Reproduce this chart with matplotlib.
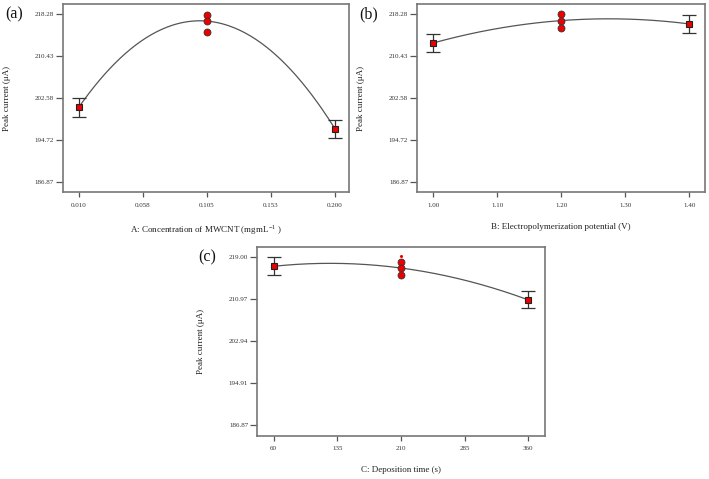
import numpy as np
import matplotlib
matplotlib.use("Agg")
import matplotlib.pyplot as plt

plt.rcParams['font.family'] = ['Liberation Serif', 'DejaVu Serif']

# ---------------- data ----------------
# (a) Concentration of MWCNT
a_levels = [0.010, 0.105, 0.200]
a_pred = [200.9, 217.0, 196.8]
a_err_lo = [199.1, None, 195.1]
a_err_hi = [202.6, None, 198.5]
a_rep_x = [0.105, 0.105, 0.105]
a_rep_y = [218.15, 216.97, 215.0]
a_xticks = [0.010, 0.0575, 0.105, 0.1525, 0.200]
a_xlabels = ['0.010', '0.058', '0.105', '0.153', '0.200']
ab_yticks = [186.87, 194.72, 202.58, 210.43, 218.28]

# (b) Electropolymerization potential
b_levels = [1.00, 1.20, 1.40]
b_pred = [212.9, 217.1, 216.47]
b_err_lo = [211.24, None, 214.73]
b_err_hi = [214.67, None, 218.1]
b_rep_x = [1.20, 1.20, 1.20]
b_rep_y = [218.28, 217.1, 215.72]
b_xticks = [1.00, 1.10, 1.20, 1.30, 1.40]
b_xlabels = ['1.00', '1.10', '1.20', '1.30', '1.40']

# (c) Deposition time
c_levels = [60, 210, 360]
c_pred = [217.28, 216.95, 210.84]
c_err_lo = [215.6, None, 209.2]
c_err_hi = [219.0, None, 212.5]
c_rep_x = [210, 210, 210]
c_rep_y = [218.1, 216.95, 215.6]
c_xticks = [60, 135, 210, 285, 360]
c_xlabels = ['60', '135', '210', '285', '360']
c_yticks = [186.87, 194.91, 202.94, 210.97, 219.00]

W, H = 709, 479
fig = plt.figure(figsize=(W / 100, H / 100), dpi=100)

def px_axes(l, t, r, b):
    return fig.add_axes([l / W, 1 - b / H, (r - l) / W, (b - t) / H])

def panel(ax, levels, pred, elo, ehi, rx, ry, xticks, xlabels, yticks,
          xlim, ylim, xlabel, tag, tagpos):
    ax.set_xlim(*xlim)
    ax.set_ylim(*ylim)
    coef = np.polyfit(levels, pred, 2)
    xs = np.linspace(levels[0], levels[-1], 200)
    ax.plot(xs, np.polyval(coef, xs), color='#555555', lw=0.9, zorder=2)
    for x, p, lo, hi in zip(levels, pred, elo, ehi):
        if lo is None:
            continue
        ax.errorbar([x], [p], yerr=[[p - lo], [hi - p]], fmt='none',
                    ecolor='#333333', elinewidth=0.9, capsize=4.7,
                    capthick=0.9, zorder=3)
        ax.plot([x], [p], marker='s', ms=4.8, mfc='#ee0000', mec='#222222',
                mew=0.8, ls='none', zorder=4)
    ax.plot(rx, ry, marker='o', ms=5, mfc='#ee0000', mec='#333333',
            mew=0.6, ls='none', zorder=4)
    ax.set_xticks(xticks)
    ax.set_xticklabels(xlabels)
    ax.set_yticks(yticks)
    ax.set_yticklabels(['%.2f' % v for v in yticks])
    ax.tick_params(axis='both', direction='out', length=5, width=0.9,
                   color='#555555', labelsize=5, labelcolor='#333333',
                   pad=1.5)
    ax.tick_params(axis='x', length=3.5, pad=4)
    for s in ax.spines.values():
        s.set_color('#777777')
        s.set_linewidth(1.2)
    ax.set_ylabel('Peak current (μA)', fontsize=6.5, color='#222222',
                  labelpad=17)
    ax.set_xlabel(xlabel, fontsize=6.5, color='#222222', labelpad=11)
    fig.text(tagpos[0] / W, 1 - tagpos[1] / H, tag, fontsize=11.5,
             ha='center', va='center', color='#111111')

axa = px_axes(63, 4, 349, 192.3)
panel(axa, a_levels, a_pred, a_err_lo, a_err_hi, a_rep_x, a_rep_y,
      a_xticks, a_xlabels, ab_yticks, (-0.0019, 0.2104), (184.88, 220.21),
      'A: Concentration of MWCNT (mgmL$^{\\mathregular{-1}}$ )', '(a)', (14, 14))

axb = px_axes(417.3, 4, 705, 192.3)
panel(axb, b_levels, b_pred, b_err_lo, b_err_hi, b_rep_x, b_rep_y,
      b_xticks, b_xlabels, ab_yticks, (0.975, 1.4245), (184.88, 220.21),
      'B: Electropolymerization potential (V)', '(b)', (369, 14))

axc = px_axes(257.3, 247.3, 545.3, 435.7)
panel(axc, c_levels, c_pred, c_err_lo, c_err_hi, c_rep_x, c_rep_y,
      c_xticks, c_xlabels, c_yticks, (40.7, 380.0), (184.82, 220.92),
      'C: Deposition time (s)', '(c)', (207, 257))
axc.plot([210], [219.3], marker='o', ms=1.2, color='#ee0000', ls='none')

fig.savefig('out.png', dpi=100)
